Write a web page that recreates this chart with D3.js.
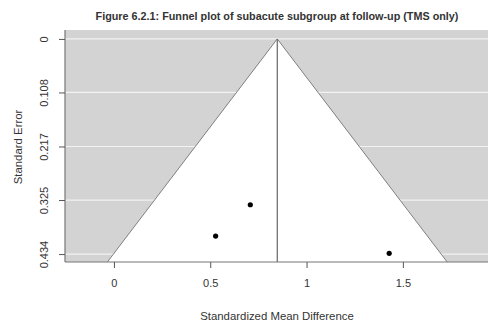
<!DOCTYPE html>
<html>
<head>
<meta charset="utf-8">
<script src="https://cdn.jsdelivr.net/npm/d3@7"></script>
<style>
  body { margin: 0; background: #fff; }
  text { font-family: "Liberation Sans", Arial, sans-serif; fill: #333; }
</style>
</head>
<body>
<div id="chart"></div>
<script>
// study values
const smd = [0.708, 0.528, 1.429];
const se = [0.3345, 0.3977, 0.4326];
const pooled = 0.848;
const xTicks = [0, 0.5, 1, 1.5];
const yTicks = [0, 0.108, 0.217, 0.325, 0.434];

const W = 491, H = 325;
const margin = { top: 30, right: 3, bottom: 63, left: 65 };

const svg = d3.select("#chart").append("svg")
    .attr("width", W)
    .attr("height", H);

const x = d3.scaleLinear()
    .domain([-0.254, 1.942])
    .range([margin.left, W - margin.right]);

const y = d3.scaleLinear()
    .domain([-0.018, 0.450])
    .range([margin.top, H - margin.bottom]);

const seMax = y.domain()[1];

// gray background
svg.append("rect")
    .attr("x", x.range()[0])
    .attr("y", y.range()[0])
    .attr("width", x.range()[1] - x.range()[0])
    .attr("height", y.range()[1] - y.range()[0])
    .attr("fill", "#d3d3d3");

// white grid lines
svg.selectAll(".grid")
    .data(yTicks)
    .enter().append("line")
    .attr("x1", x.range()[0])
    .attr("x2", x.range()[1])
    .attr("y1", d => y(d))
    .attr("y2", d => y(d))
    .attr("stroke", "#f2f2f2")
    .attr("stroke-width", 1.2);

// funnel region
const funnel = [[pooled - 1.96 * seMax, seMax], [pooled, 0], [pooled + 1.96 * seMax, seMax]];
svg.append("path")
    .attr("d", d3.line().x(d => x(d[0])).y(d => y(d[1]))(funnel) + "Z")
    .attr("fill", "#fff");
svg.append("path")
    .attr("d", d3.line().x(d => x(d[0])).y(d => y(d[1]))(funnel))
    .attr("fill", "none")
    .attr("stroke", "#666")
    .attr("stroke-width", 0.8);

// pooled estimate line
svg.append("line")
    .attr("x1", x(pooled)).attr("x2", x(pooled))
    .attr("y1", y(0)).attr("y2", y.range()[1])
    .attr("stroke", "#666")
    .attr("stroke-width", 1.2);

// points
svg.selectAll(".pt")
    .data(smd)
    .enter().append("circle")
    .attr("cx", d => x(d))
    .attr("cy", (d, i) => y(se[i]))
    .attr("r", 2.6)
    .attr("fill", "#000");

// axes
const xAxis = svg.append("g")
    .attr("transform", `translate(0,${y.range()[1]})`)
    .call(d3.axisBottom(x).tickValues(xTicks).tickFormat(d3.format("")).tickSize(6).tickPadding(11));
const yAxis = svg.append("g")
    .attr("transform", `translate(${x.range()[0]},0)`)
    .call(d3.axisLeft(y).tickValues(yTicks).tickFormat(d => d === 0 ? "0" : d3.format(".3f")(d)).tickSize(6));

[xAxis, yAxis].forEach(g => {
    g.select(".domain").attr("stroke", "#777").attr("stroke-width", 1.2)
        .attr("d", g === xAxis ? `M${x.range()[0]},0H${x.range()[1]}` : `M0,${y.range()[0]}V${y.range()[1]}`);
    g.selectAll(".tick line").attr("stroke", "#555");
    g.selectAll("text").style("font-size", "11px").style("font-family", "Liberation Sans, Arial, sans-serif").attr("fill", "#333");
});

yAxis.selectAll(".tick text")
    .attr("x", 0).attr("dy", 0)
    .attr("text-anchor", "middle")
    .attr("transform", "translate(-17,0) rotate(-90)")
    .attr("y", 0);

// titles
svg.append("text")
    .attr("x", 277).attr("y", 20)
    .attr("text-anchor", "middle")
    .style("font-size", "10.8px")
    .style("font-weight", "bold")
    .attr("fill", "#222")
    .text("Figure 6.2.1: Funnel plot of subacute subgroup at follow-up (TMS only)");

svg.append("text")
    .attr("x", 277).attr("y", 320)
    .attr("text-anchor", "middle")
    .style("font-size", "11.4px")
    .text("Standardized Mean Difference");

svg.append("text")
    .attr("transform", "translate(22,147) rotate(-90)")
    .attr("text-anchor", "middle")
    .style("font-size", "11.4px")
    .text("Standard Error");
</script>
</body>
</html>
